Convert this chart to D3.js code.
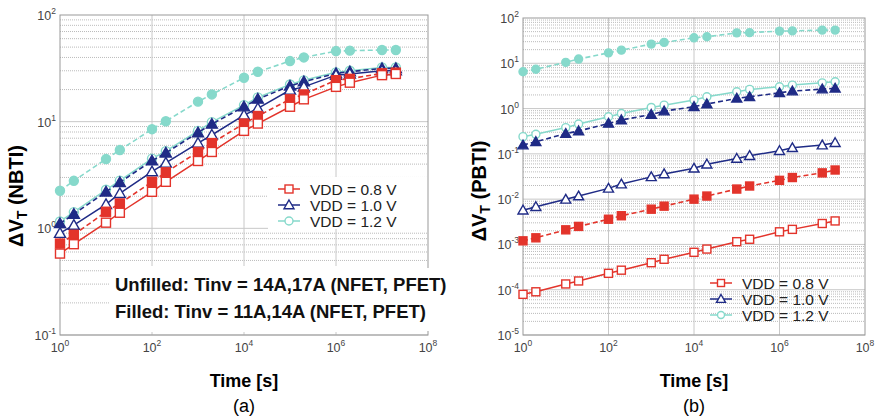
<!DOCTYPE html>
<html>
<head>
<meta charset="utf-8">
<script src="https://cdn.jsdelivr.net/npm/d3@7"></script>
<style>
  body { margin: 0; background: #fff; }
  svg { font-family: "Liberation Sans", Arial, sans-serif; }
</style>
</head>
<body>
<div id="chart"></div>
<script>
// stress times [s]
const times = [1, 2, 10, 20, 100, 200, 1e3, 2e3, 1e4, 2e4, 1e5, 2e5, 1e6, 2e6, 1e7, 2e7];

// (a) NBTI, delta VT
const nbti08Open = [0.58, 0.71, 1.13, 1.4, 2.2, 2.73, 4.28, 5.2, 8.2, 9.6, 13.8, 16.2, 21.2, 23.2, 27.3, 28];
const nbti08Fill = [0.72, 0.87, 1.43, 1.71, 2.73, 3.35, 5.2, 6.3, 9.6, 11.3, 16.2, 18.0, 24.5, 25.2, 28.4, 28.8];
const nbti10Open = [0.9, 1.07, 1.68, 2.13, 3.4, 4.1, 6.3, 7.5, 11.5, 13.3, 19.8, 21.2, 27.3, 28, 30, 30];
const nbti10Fill = [1.11, 1.36, 2.2, 2.7, 4.3, 5.1, 7.9, 9.5, 13.8, 16.3, 21.6, 23.7, 28.4, 29.4, 31.6, 31.6];
const nbti12Open = [1.16, 1.42, 2.3, 2.8, 4.5, 5.3, 8.2, 9.9, 14.3, 16.9, 22.3, 24.4, 29.0, 30.0, 32.2, 32.2];
const nbti12Fill = [2.25, 2.79, 4.46, 5.42, 8.5, 10.1, 15.4, 18.0, 25.8, 29.4, 37.0, 40, 45.9, 46.3, 47, 47];

// (b) PBTI, delta VT
const pbti08Open = [7.9e-5, 9.0e-5, 1.34e-4, 1.56e-4, 2.3e-4, 2.7e-4, 3.95e-4, 4.7e-4, 6.7e-4, 7.9e-4, 1.15e-3, 1.3e-3, 1.9e-3, 2.15e-3, 2.9e-3, 3.3e-3];
const pbti08Fill = [0.0012, 0.0014, 0.0021, 0.0025, 0.0036, 0.0043, 0.006, 0.007, 0.01, 0.0117, 0.0167, 0.0195, 0.026, 0.03, 0.038, 0.044];
const pbti10Open = [0.0057, 0.0068, 0.0099, 0.0117, 0.0173, 0.0215, 0.031, 0.036, 0.048, 0.059, 0.079, 0.091, 0.117, 0.136, 0.156, 0.176];
const pbti10Fill = [0.156, 0.185, 0.28, 0.32, 0.47, 0.56, 0.74, 0.88, 1.1, 1.26, 1.68, 1.82, 2.23, 2.43, 2.69, 2.8];
const pbti12Open = [0.24, 0.27, 0.38, 0.455, 0.66, 0.78, 1.06, 1.19, 1.54, 1.82, 2.35, 2.65, 3.03, 3.3, 3.7, 3.9];
const pbti12Fill = [6.5, 7.4, 10.5, 12.4, 17, 19.5, 26.5, 28.9, 36.5, 38.5, 47, 47.5, 51.4, 52, 54, 54];

const legendLabels = ["VDD = 0.8 V", "VDD = 1.0 V", "VDD = 1.2 V"];
const xTickExps = [0, 2, 4, 6, 8];

const RED = "#e3342b", BLUE = "#1f2b86", CYAN = "#86d9cb";

const svg = d3.select("#chart").append("svg")
  .attr("width", 877).attr("height", 420);

function tickLabel(g, x, y, exp, anchor) {
  const t = g.append("text")
    .attr("x", x).attr("y", y)
    .attr("text-anchor", anchor)
    .attr("fill", "#444")
    .style("font-size", "12.5px");
  t.append("tspan").text("10");
  t.append("tspan").attr("dy", -6).style("font-size", "8.5px").text(exp);
}

function drawPanel(opts) {
  const x = d3.scaleLog().domain([1, 1e8]).range([opts.left, opts.right]);
  const y = d3.scaleLog().domain([opts.yMin, opts.yMax]).range([opts.bottom, opts.top]);
  const g = svg.append("g");

  // grid: minor (dotted) and major (solid) horizontal lines
  const minorY = [];
  const majorY = [];
  for (let e = Math.log10(opts.yMin); e < Math.log10(opts.yMax); e++) {
    majorY.push(Math.pow(10, e));
    for (let m = 2; m <= 9; m++) minorY.push(m * Math.pow(10, e));
  }
  g.selectAll(".minor").data(minorY).enter().append("line")
    .attr("x1", opts.left).attr("x2", opts.right)
    .attr("y1", (d) => y(d)).attr("y2", (d) => y(d))
    .attr("stroke", "#aaa").attr("stroke-width", 0.8)
    .attr("stroke-dasharray", "1,1");
  g.selectAll(".major").data(majorY).enter().append("line")
    .attr("x1", opts.left).attr("x2", opts.right)
    .attr("y1", (d) => y(d)).attr("y2", (d) => y(d))
    .attr("stroke", "#c8c8c8").attr("stroke-width", 1);
  g.selectAll(".vgrid").data(xTickExps.slice(1, -1)).enter().append("line")
    .attr("x1", (d) => x(Math.pow(10, d))).attr("x2", (d) => x(Math.pow(10, d)))
    .attr("y1", opts.top).attr("y2", opts.bottom)
    .attr("stroke", "#c8c8c8").attr("stroke-width", 1);

  // white boxes (annotation / legend backgrounds)
  (opts.whiteBoxes || []).forEach((b) => {
    g.append("rect").attr("x", b[0]).attr("y", b[1]).attr("width", b[2]).attr("height", b[3]).attr("fill", "#fff");
  });

  // frame
  g.append("rect")
    .attr("x", opts.left).attr("y", opts.top)
    .attr("width", opts.right - opts.left).attr("height", opts.bottom - opts.top)
    .attr("fill", "none").attr("stroke", "#999").attr("stroke-width", 1);
  if (opts.frameGap) {
    g.append("line").attr("x1", opts.right).attr("x2", opts.right)
      .attr("y1", opts.frameGap[0]).attr("y2", opts.frameGap[1])
      .attr("stroke", "#fff").attr("stroke-width", 3);
  }

  // tick labels
  xTickExps.forEach((e) => tickLabel(g, x(Math.pow(10, e)), opts.bottom + 17, e, "middle"));
  majorY.concat([opts.yMax]).forEach((v) => {
    tickLabel(g, opts.left - 4, y(v) + 5, Math.round(Math.log10(v)), "end");
  });

  // series
  const line = d3.line().x((d) => x(d[0])).y((d) => y(d[1]));
  opts.series.forEach((s) => {
    const pts = times.map((t, i) => [t, s.values[i]]);
    g.append("path").datum(pts)
      .attr("d", line)
      .attr("fill", "none")
      .attr("stroke", s.color)
      .attr("stroke-width", s.dashed ? 1.6 : 1.5)
      .attr("stroke-dasharray", s.dashed ? "5,3" : null);
    drawMarkers(g, pts.map((p) => [x(p[0]), y(p[1])]), s.shape, s.color, s.filled, opts.ms);
  });

  // legend
  legendLabels.forEach((lab, i) => {
    const ly = opts.legY + i * opts.legDy;
    const color = [RED, BLUE, CYAN][i];
    const shape = ["square", "triangle", "circle"][i];
    g.append("line").attr("x1", opts.legX).attr("x2", opts.legX + 22)
      .attr("y1", ly).attr("y2", ly).attr("stroke", color).attr("stroke-width", 1.5);
    drawMarkers(g, [[opts.legX + 11, ly]], shape, color, false, opts.ms - 1);
    g.append("text").attr("x", opts.legX + 32).attr("y", ly + 5.5)
      .style("font-size", "15.5px").attr("fill", "#222").text(lab);
  });

  // axis titles
  const cx = (opts.left + opts.right) / 2;
  g.append("text").attr("x", cx).attr("y", 387).attr("text-anchor", "middle")
    .style("font-size", "18px").style("font-weight", "bold").text("Time [s]");
  g.append("text").attr("x", cx).attr("y", 412).attr("text-anchor", "middle")
    .style("font-size", "18px").text(opts.tag);
  const yl = g.append("text")
    .attr("transform", `translate(${opts.yLabelX},${opts.yLabelY}) rotate(-90)`)
    .attr("text-anchor", "middle")
    .style("font-size", "20px").style("font-weight", "bold");
  yl.append("tspan").text("ΔV");
  yl.append("tspan").attr("dy", 4).style("font-size", "14px").text("T");
  yl.append("tspan").attr("dy", -4).text(" " + opts.yTitle);

  return g;
}

function drawMarkers(g, pts, shape, color, filled, size) {
  const fill = filled ? color : "#fff";
  const h = size / 2;
  pts.forEach((p) => {
    if (shape === "square") {
      g.append("rect").attr("x", p[0] - h).attr("y", p[1] - h)
        .attr("width", size).attr("height", size)
        .attr("fill", fill).attr("stroke", color).attr("stroke-width", 1.4);
    } else if (shape === "triangle") {
      const r = h + 1;
      g.append("path")
        .attr("d", `M${p[0]},${p[1] - r}L${p[0] + r},${p[1] + r * 0.75}L${p[0] - r},${p[1] + r * 0.75}Z`)
        .attr("fill", fill).attr("stroke", color).attr("stroke-width", 1.4);
    } else {
      g.append("circle").attr("cx", p[0]).attr("cy", p[1]).attr("r", h)
        .attr("fill", fill).attr("stroke", color).attr("stroke-width", 1.4);
    }
  });
}

// ---------- (a) NBTI ----------
const gA = drawPanel({
  left: 60, right: 428, top: 15, bottom: 335,
  yMin: 0.1, yMax: 100, ms: 9, tag: "(a)",
  yTitle: "(NBTI)", yLabelX: 23, yLabelY: 196,
  legX: 278, legY: 189, legDy: 16,
  whiteBoxes: [[268, 177, 160, 52], [110, 266, 340, 66]],
  frameGap: [268, 331],
  series: [
    { values: nbti12Open, color: CYAN, shape: "circle", filled: false, dashed: false },
    { values: nbti12Fill, color: CYAN, shape: "circle", filled: true, dashed: true },
    { values: nbti10Fill, color: BLUE, shape: "triangle", filled: true, dashed: true },
    { values: nbti10Open, color: BLUE, shape: "triangle", filled: false, dashed: false },
    { values: nbti08Fill, color: RED, shape: "square", filled: true, dashed: true },
    { values: nbti08Open, color: RED, shape: "square", filled: false, dashed: false },
  ],
});

gA.append("text").attr("x", 115).attr("y", 291)
  .style("font-size", "18.5px").style("font-weight", "bold").attr("fill", "#111")
  .text("Unfilled: Tinv = 14A,17A (NFET, PFET)");
gA.append("text").attr("x", 115).attr("y", 318)
  .style("font-size", "18.5px").style("font-weight", "bold").attr("fill", "#111")
  .text("Filled: Tinv = 11A,14A (NFET, PFET)");

// ---------- (b) PBTI ----------
drawPanel({
  left: 523, right: 865, top: 18, bottom: 335,
  yMin: 1e-5, yMax: 100, ms: 8, tag: "(b)",
  yTitle: "(PBTI)", yLabelX: 486, yLabelY: 191,
  legX: 710, legY: 283, legDy: 16,
  series: [
    { values: pbti12Open, color: CYAN, shape: "circle", filled: false, dashed: false },
    { values: pbti12Fill, color: CYAN, shape: "circle", filled: true, dashed: true },
    { values: pbti10Fill, color: BLUE, shape: "triangle", filled: true, dashed: true },
    { values: pbti10Open, color: BLUE, shape: "triangle", filled: false, dashed: false },
    { values: pbti08Fill, color: RED, shape: "square", filled: true, dashed: true },
    { values: pbti08Open, color: RED, shape: "square", filled: false, dashed: false },
  ],
});
</script>
</body>
</html>
